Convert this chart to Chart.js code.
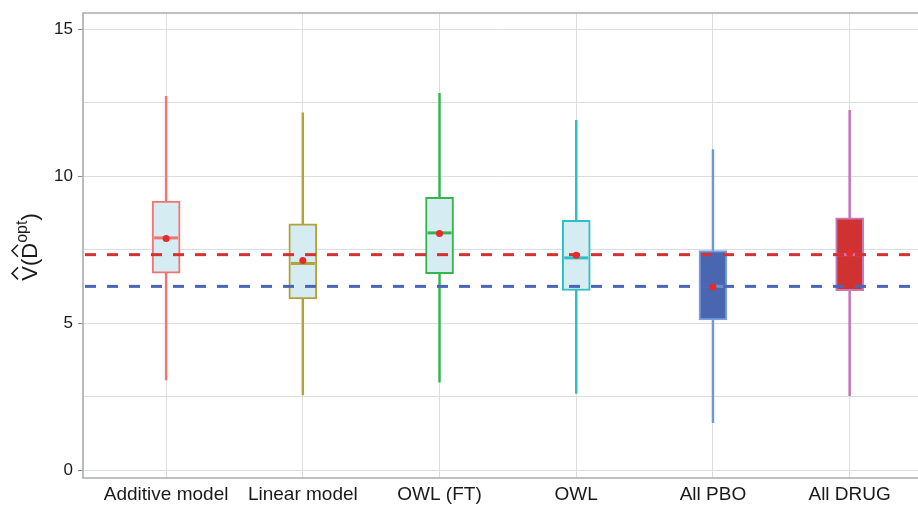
<!DOCTYPE html>
<html>
<head>
<meta charset="utf-8">
<script src="https://cdn.jsdelivr.net/npm/chart.js@4/dist/chart.umd.min.js"></script>
<style>
  html, body { margin: 0; padding: 0; background: #ffffff; overflow: hidden; }
  #wrap { width: 918px; height: 505px; position: relative; }
  canvas { display: block; }
</style>
</head>
<body>
<div id="wrap"><canvas id="c" width="918" height="505"></canvas></div>
<script>
// Estimated value of the optimal rule, per method
const categories = ['Additive model', 'Linear model', 'OWL (FT)', 'OWL', 'All PBO', 'All DRUG'];
const whiskerLow  = [3.07, 2.56, 2.99, 2.61, 1.61, 2.53];
const boxLow      = [6.70, 5.82, 6.68, 6.11, 5.11, 6.10];
const medians     = [7.90, 7.03, 8.07, 7.22, 6.25, 7.33];
const boxHigh     = [9.15, 8.38, 9.28, 8.50, 7.47, 8.58];
const whiskerHigh = [12.72, 12.16, 12.82, 11.90, 10.91, 12.24];
const means       = [7.88, 7.13, 8.05, 7.31, 6.23, 7.39];
const refDrug = 7.33;   // mean value under all-drug
const refPbo  = 6.25;   // mean value under all-placebo
const yTicks  = [0, 5, 10, 15];
const yMinor  = [2.5, 7.5, 12.5];

// styling
const lineColors = ['#f27470', '#b3a13a', '#35b550', '#2ebfc4', '#6f98dc', '#c472b8'];
const boxBorders = ['#f27470', '#b3a13a', '#35b550', '#2ebfc4', '#7a9fe0', '#c47ab8'];
const boxFills   = ['#d6ecf3', '#d6ecf3', '#d6ecf3', '#d6ecf3', '#4a66b0', '#d03232'];
const medColors  = ['#f27470', '#b3a13a', '#35b550', '#2ebfc4', '#6d8fd0', '#c476b6'];
const X_MIN = 0.392, X_MAX = 6.5;
const FONT = '"Liberation Sans", Arial, Helvetica, sans-serif';

const xs = categories.map((_, i) => i + 1);

const frame = {
  id: 'frame',
  afterDatasetsDraw(chart) {
    const { ctx, chartArea: a } = chart;
    ctx.save();
    ctx.strokeStyle = '#a9acae';
    ctx.lineWidth = 1.6;
    ctx.beginPath();
    ctx.moveTo(a.right, a.top);
    ctx.lineTo(a.left, a.top);
    ctx.lineTo(a.left, a.bottom);
    ctx.lineTo(a.right, a.bottom);
    ctx.stroke();
    ctx.restore();
  }
};

// y-axis title: V-hat ( D-hat ^opt )
const yTitle = {
  id: 'yTitle',
  afterDraw(chart) {
    const ctx = chart.ctx;
    const big = '22px ' + FONT, small = '16px ' + FONT;
    const parts = [
      { t: 'V', f: big, dy: 0, hat: true },
      { t: '(', f: big, dy: 0 },
      { t: 'D', f: big, dy: 0, hat: true },
      { t: 'opt', f: small, dy: -10 },
      { t: ')', f: big, dy: 0 }
    ];
    ctx.save();
    let total = 0;
    parts.forEach(p => { ctx.font = p.f; p.w = ctx.measureText(p.t).width; total += p.w; });
    ctx.translate(37, 247);
    ctx.rotate(-Math.PI / 2);
    ctx.fillStyle = '#1a1a1a';
    ctx.strokeStyle = '#1a1a1a';
    ctx.textBaseline = 'alphabetic';
    ctx.textAlign = 'left';
    let x = -total / 2;
    parts.forEach(p => {
      ctx.font = p.f;
      ctx.fillText(p.t, x, p.dy);
      if (p.hat) {
        const cx = x + p.w / 2;
        ctx.lineWidth = 1.5;
        ctx.beginPath();
        ctx.moveTo(cx - 6, -19);
        ctx.lineTo(cx, -25);
        ctx.lineTo(cx + 6, -19);
        ctx.stroke();
      }
      x += p.w;
    });
    ctx.restore();
  }
};

const pts = arr => arr.map((v, i) => ({ x: xs[i], y: v }));

new Chart(document.getElementById('c'), {
  type: 'bar',
  data: {
    datasets: [
      {
        label: 'whisker',
        data: xs.map((x, i) => ({ x, y: [whiskerLow[i], whiskerHigh[i]] })),
        backgroundColor: lineColors,
        borderWidth: 0,
        barThickness: 1.8,
        grouped: false,
        order: 5
      },
      {
        label: 'box',
        data: xs.map((x, i) => ({ x, y: [boxLow[i], boxHigh[i]] })),
        backgroundColor: boxFills,
        borderColor: boxBorders,
        borderWidth: 2,
        borderSkipped: false,
        barThickness: 28,
        grouped: false,
        order: 4
      },
      {
        type: 'line',
        label: 'median',
        data: pts(medians),
        showLine: false,
        pointStyle: 'line',
        pointRadius: 12,
        pointBorderWidth: 3,
        pointBorderColor: medColors,
        order: 3
      },
      {
        type: 'line',
        label: 'All DRUG mean',
        data: [{ x: X_MIN, y: refDrug }, { x: X_MAX, y: refDrug }],
        borderColor: '#d83030',
        borderWidth: 3,
        borderDash: [11, 11],
        borderDashOffset: -2,
        pointRadius: 0,
        order: 2
      },
      {
        type: 'line',
        label: 'All PBO mean',
        data: [{ x: X_MIN, y: refPbo }, { x: X_MAX, y: refPbo }],
        borderColor: '#4a65b5',
        borderWidth: 3,
        borderDash: [11, 11],
        borderDashOffset: -2,
        pointRadius: 0,
        order: 2
      },
      {
        type: 'line',
        label: 'mean',
        data: pts(means),
        showLine: false,
        pointStyle: 'circle',
        pointRadius: 3.5,
        pointBorderWidth: 0,
        pointBackgroundColor: '#e82a2a',
        order: 1
      }
    ]
  },
  options: {
    responsive: false,
    animation: false,
    events: [],
    layout: { autoPadding: false, padding: { top: 13, right: 0, left: 0, bottom: 0 } },
    plugins: { legend: { display: false }, tooltip: { enabled: false } },
    scales: {
      x: {
        type: 'linear',
        min: X_MIN,
        max: X_MAX,
        offset: false,
        afterBuildTicks: s => { s.ticks = xs.map(v => ({ value: v })); },
        afterFit: s => { s.height = 27; s.paddingLeft = 0; s.paddingRight = 0; },
        grid: { color: '#dddddd', lineWidth: 1, drawTicks: false, offset: false },
        border: { display: false },
        ticks: {
          padding: 5,
          color: '#1a1a1a',
          font: { family: FONT, size: 19 },
          maxRotation: 0,
          autoSkip: false,
          callback: v => categories[v - 1] || ''
        }
      },
      y: {
        type: 'linear',
        min: -0.272,
        max: 15.555,
        afterBuildTicks: s => {
          s.ticks = yTicks.concat(yMinor).sort((a, b) => a - b).map(v => ({ value: v }));
        },
        afterFit: s => { s.width = 83; s.paddingTop = 0; s.paddingBottom = 0; },
        grid: {
          color: '#dddddd',
          lineWidth: 1,
          tickLength: 5,
          tickColor: c => (c.tick && c.tick.value % 5 === 0) ? '#8c8c8c' : 'rgba(0,0,0,0)'
        },
        border: { display: false },
        ticks: {
          padding: 5,
          color: '#1a1a1a',
          font: { family: FONT, size: 17 },
          autoSkip: false,
          callback: v => (v % 5 === 0 ? String(v) : '')
        }
      }
    }
  },
  plugins: [frame, yTitle]
});
</script>
</body>
</html>
